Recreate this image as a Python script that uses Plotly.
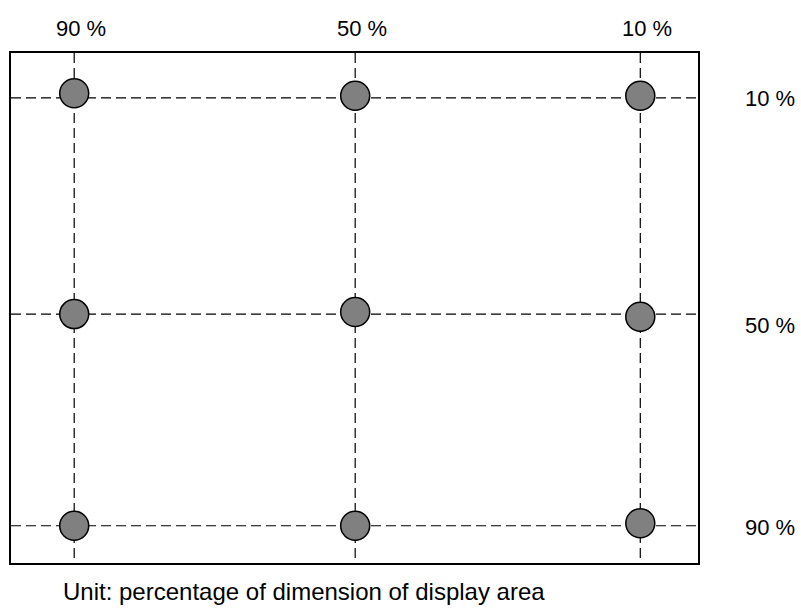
import plotly.graph_objects as go

# Grid positions (percent of display area; x measured from right edge, y from top)
col_labels = ["90 %", "50 %", "10 %"]
col_pos = [90.8, 49.9, 8.4]
row_labels = ["10 %", "50 %", "90 %"]
row_pos = [8.8, 51.2, 92.7]

# Measurement points (circles) as drawn
point_x = [90.8, 49.9, 8.4, 90.8, 49.9, 8.4, 90.8, 49.9, 8.4]
point_y = [7.9, 8.4, 8.4, 51.2, 50.8, 51.7, 92.7, 92.7, 92.2]

caption = "Unit: percentage of dimension of display area"

FONT = "Liberation Sans, Arial, sans-serif"
DASH = "10px,5px"

fig = go.Figure()

# vertical dashed lines
for xv in col_pos:
    fig.add_trace(go.Scatter(x=[xv, xv], y=[0, 100], mode="lines",
                             line=dict(color="black", width=1.2, dash=DASH),
                             hoverinfo="skip", showlegend=False))
# horizontal dashed lines
for yv in row_pos:
    fig.add_trace(go.Scatter(x=[100, 0], y=[yv, yv], mode="lines",
                             line=dict(color="black", width=1.2, dash=DASH),
                             hoverinfo="skip", showlegend=False))

# circles
fig.add_trace(go.Scatter(x=point_x, y=point_y, mode="markers",
                         marker=dict(size=29, color="#808080",
                                     line=dict(color="black", width=1.5)),
                         showlegend=False))

annotations = []
for lab, xv in zip(col_labels, col_pos):
    annotations.append(dict(x=xv, xref="x", y=1, yref="paper", yshift=25,
                            text=lab, showarrow=False, xshift=7,
                            xanchor="center", yanchor="middle",
                            font=dict(family=FONT, size=22, color="black")))
row_shift = [-1, -11, -2]
for lab, yv, sh in zip(row_labels, row_pos, row_shift):
    annotations.append(dict(x=1, xref="paper", xshift=72, y=yv, yref="y",
                            yshift=sh, text=lab, showarrow=False,
                            xanchor="center", yanchor="middle",
                            font=dict(family=FONT, size=22, color="black")))
annotations.append(dict(x=0.0728, xref="paper", y=0, yref="paper", yshift=-28,
                        text=caption, showarrow=False, xanchor="left",
                        yanchor="middle",
                        font=dict(family=FONT, size=24, color="black")))

fig.update_layout(
    width=801, height=614,
    margin=dict(l=11, r=103, t=53, b=51),
    paper_bgcolor="white", plot_bgcolor="white",
    showlegend=False,
    hovermode=False,
    annotations=annotations,
    xaxis=dict(range=[100, 0], showgrid=False, zeroline=False,
               showticklabels=False, ticks="", showline=True, mirror=True,
               linecolor="black", linewidth=1.5, fixedrange=True),
    yaxis=dict(range=[100, 0], showgrid=False, zeroline=False,
               showticklabels=False, ticks="", showline=True, mirror=True,
               linecolor="black", linewidth=1.5, fixedrange=True),
)

fig.write_html(
    "out.html",
    config={"displayModeBar": False},
    post_script="document.body.style.margin='0';document.body.style.overflow='hidden';",
)
